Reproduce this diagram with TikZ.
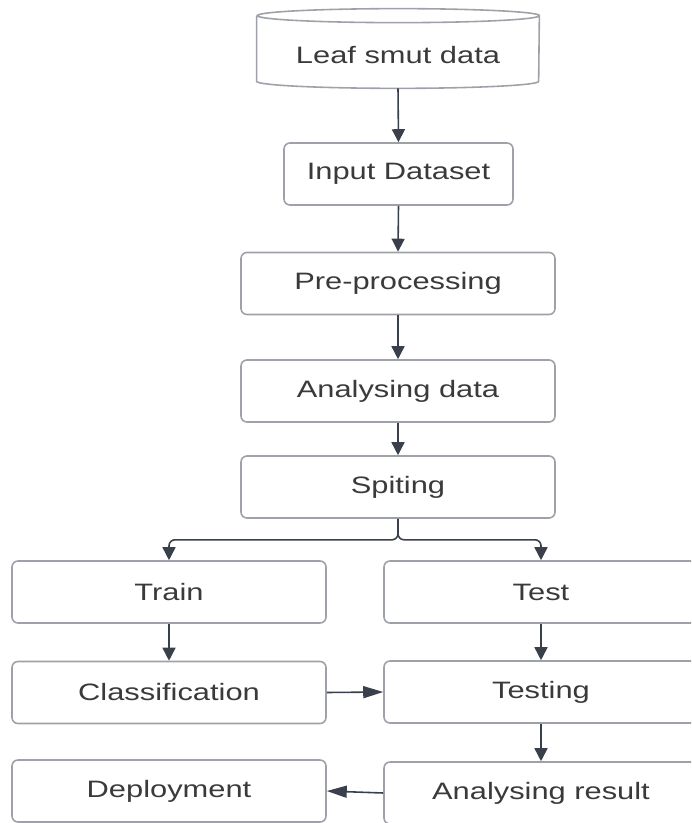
\documentclass[tikz,border=0pt]{standalone}
\usepackage{fontspec}
\setmainfont{Liberation Sans}[FakeStretch=1.3]
\usepackage{tikz}
\usetikzlibrary{arrows.meta, positioning, calc}
\definecolor{edgegray}{HTML}{9EA2A8}
\definecolor{linkdark}{HTML}{3A404B}
\definecolor{textdark}{HTML}{3A3A3A}
\tikzstyle{arrow} = [line width=0.9pt, linkdark, -{Triangle[length=0.26cm, width=0.26cm]}]
\tikzstyle{harrow} = [line width=0.9pt, linkdark, -{Triangle[length=0.4cm, width=0.24cm]}]

\begin{document}
\begin{tikzpicture}[
    box/.style={rectangle, rounded corners=0.12cm, draw=edgegray, line width=0.9pt, fill=white, minimum width=6.28cm, minimum height=1.24cm, font=\fontsize{13.5}{16}\selectfont, text=textdark},
    dbtext/.style={minimum width=5.64cm, minimum height=1.3cm, inner sep=0pt, font=\fontsize{13.5}{16}\selectfont, text=textdark},
]
\clip (0,0) rectangle (13.82,-16.46);

% Data source (cylinder)
\node[dbtext] (leaf) at (7.96,-1.11) {};
\draw[edgegray, line width=0.9pt, fill=white]
    ([yshift=0.14cm]leaf.north west) -- ([yshift=0.14cm]leaf.south west)
    arc[start angle=180, end angle=360, x radius=2.82cm, y radius=0.14cm]
    -- ([yshift=0.14cm]leaf.north east)
    arc[start angle=0, end angle=360, x radius=2.82cm, y radius=0.14cm];
\node[dbtext] at (leaf) {Leaf smut data};

% Main chain
\node[box, minimum width=4.58cm] (input) at (7.97,-3.48) {Input Dataset};
\node[box] (pre) at (7.96,-5.67) {Pre-processing};
\node[box] (anal) at (7.96,-7.82) {Analysing data};
\node[box] (split) at (7.96,-9.74) {Spiting};

% Two branches
\node[box] (train) at (3.38,-11.84) {Train};
\node[box] (test) at (10.82,-11.84) {Test};
\node[box] (classif) at (3.38,-13.85) {Classification};
\node[box] (testing) at (10.82,-13.84) {Testing};
\node[box] (deploy) at (3.38,-15.82) {Deployment};
\node[box] (result) at (10.82,-15.86) {Analysing result};

% Arrows - straight down
\foreach \a/\b in {leaf/input, input/pre, pre/anal, anal/split, train/classif, test/testing, testing/result} {
    \draw[arrow] (\a.south) -- (\b.north);
}

% Split into train and test
\draw[arrow, rounded corners=0.12cm] (split.south) -- ++(0,-0.42) -| (train.north);
\draw[arrow, rounded corners=0.12cm] (split.south) -- ++(0,-0.42) -| (test.north);

% Sideways arrows
\draw[harrow] (classif.east) -- (testing.west);
\draw[harrow] (result.west) -- (deploy.east);

\end{tikzpicture}
\end{document}
